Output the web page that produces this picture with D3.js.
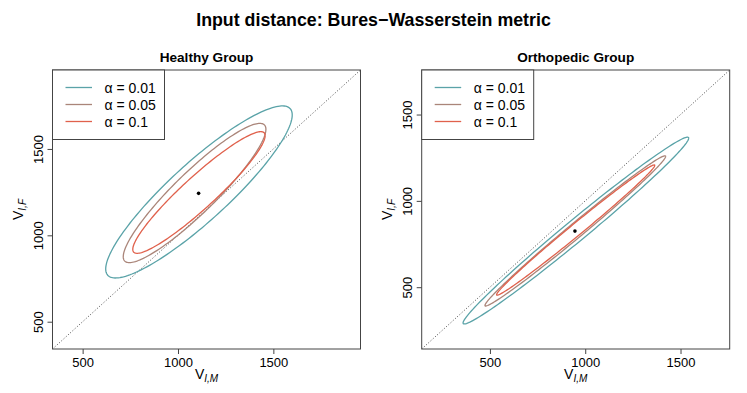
<!DOCTYPE html>
<html>
<head>
<meta charset="utf-8">
<script src="https://cdn.jsdelivr.net/npm/d3@7"></script>
<style>
  body { margin: 0; background: #fff; }
  text { font-family: "Liberation Sans", Arial, sans-serif; fill: #000; }
</style>
</head>
<body>
<div id="chart"></div>
<script>
// --------------------------------------
//  Data
// --------------------------------------

const mainTitle = "Input distance: Bures\u2212Wasserstein metric";
const groupNames = ["Healthy Group", "Orthopedic Group"];
const alphaLabels = ["\u03b1 = 0.01", "\u03b1 = 0.05", "\u03b1 = 0.1"];
const axisTicks = [500, 1000, 1500];

const healthyRange = [342, 1957];
const orthoRange = [142, 1758];

const healthyMean = [1108, 1243];
const orthoMean = [946, 825];

// confidence regions: [centre x, centre y, half-extent x, half-extent y, correlation]
const healthyRegions = [
  [1110, 1251, 489, 498, 0.895],
  [1087, 1245, 374, 403, 0.915],
  [1110, 1248, 347, 352, 0.935]
];
const orthoRegions = [
  [951, 828, 592, 541, 0.989],
  [948, 826, 474, 435, 0.992],
  [950, 831, 415, 377, 0.993]
];

// --------------------------------------
//  Margin and canvas
// --------------------------------------

const width = 747;
const height = 393;
const levelColors = ["#5aa3a8", "#aa8579", "#e0614c"];

const panels = [
  {name: groupNames[0], range: healthyRange, mean: healthyMean, regions: healthyRegions, left: 52.5},
  {name: groupNames[1], range: orthoRange, mean: orthoMean, regions: orthoRegions, left: 421.7}
];
const boxW = 308, boxTop = 70, boxBottom = 349;

const svg = d3.select("#chart")
  .append("svg")
    .attr("width", width)
    .attr("height", height);

svg.append("text")
  .attr("x", width / 2)
  .attr("y", 26)
  .attr("text-anchor", "middle")
  .attr("font-size", 17.8)
  .attr("font-weight", "bold")
  .text(mainTitle);

const ellipsePoints = r => d3.range(0, 361, 2).map(a => {
  const t = a * Math.PI / 180;
  return [r[0] + r[2] * Math.cos(t),
          r[1] + r[3] * (r[4] * Math.cos(t) + Math.sqrt(1 - r[4] * r[4]) * Math.sin(t))];
});

panels.forEach((p, i) => {
  const x = d3.scaleLinear().domain(p.range).range([p.left, p.left + boxW]);
  const y = d3.scaleLinear().domain(p.range).range([boxBottom, boxTop]);
  const g = svg.append("g");

  g.append("clipPath").attr("id", "clip" + i)
    .append("rect")
      .attr("x", p.left).attr("y", boxTop)
      .attr("width", boxW).attr("height", boxBottom - boxTop);

  const plot = g.append("g").attr("clip-path", `url(#clip${i})`);

  // diagonal y = x
  plot.append("line")
    .attr("x1", x(p.range[0])).attr("y1", y(p.range[0]))
    .attr("x2", x(p.range[1])).attr("y2", y(p.range[1]))
    .attr("stroke", "#333")
    .attr("stroke-width", 0.9)
    .attr("stroke-dasharray", "1,2");

  const line = d3.line().x(d => x(d[0])).y(d => y(d[1]));

  p.regions.forEach((r, k) => {
    plot.append("path")
      .attr("d", line(ellipsePoints(r)))
      .attr("fill", "none")
      .attr("stroke", levelColors[k])
      .attr("stroke-width", 1.3);
  });

  plot.append("circle")
    .attr("cx", x(p.mean[0])).attr("cy", y(p.mean[1]))
    .attr("r", 1.8)
    .attr("fill", "#000");

  // box
  g.append("rect")
    .attr("x", p.left).attr("y", boxTop)
    .attr("width", boxW).attr("height", boxBottom - boxTop)
    .attr("fill", "none")
    .attr("stroke", "#444");

  // axes
  const xAxis = g.append("g")
    .attr("transform", `translate(0, ${boxBottom})`)
    .call(d3.axisBottom(x).tickValues(axisTicks).tickFormat(d3.format("d"))
      .tickSize(5).tickSizeOuter(0).tickPadding(4));
  xAxis.select(".domain").remove();
  xAxis.selectAll("line").attr("stroke", "#444");
  xAxis.selectAll("text").attr("font-size", 13).attr("font-family", "Liberation Sans, Arial, sans-serif").attr("fill", "#000");

  const yAxis = g.append("g")
    .attr("transform", `translate(${p.left}, 0)`)
    .call(d3.axisLeft(y).tickValues(axisTicks).tickFormat(d3.format("d"))
      .tickSize(5).tickSizeOuter(0));
  yAxis.select(".domain").remove();
  yAxis.selectAll("line").attr("stroke", "#444");
  yAxis.selectAll("text")
    .attr("font-size", 13)
    .attr("font-family", "Liberation Sans, Arial, sans-serif")
    .attr("fill", "#000")
    .attr("x", null).attr("dy", null)
    .attr("text-anchor", "middle")
    .attr("transform", "translate(-9.5, 0) rotate(-90)");

  // panel title
  g.append("text")
    .attr("x", p.left + boxW / 2)
    .attr("y", 62)
    .attr("text-anchor", "middle")
    .attr("font-size", 13.6)
    .attr("font-weight", "bold")
    .text(p.name);

  // axis labels
  const xl = g.append("text")
    .attr("x", p.left + boxW / 2)
    .attr("y", 379)
    .attr("text-anchor", "middle")
    .attr("font-size", 14);
  xl.append("tspan").text("V");
  xl.append("tspan").attr("dy", 3).attr("font-size", 10).attr("font-style", "italic").text("I,M");

  const yl = g.append("text")
    .attr("transform", `translate(${p.left - 30}, ${(boxTop + boxBottom) / 2}) rotate(-90)`)
    .attr("text-anchor", "middle")
    .attr("font-size", 14);
  yl.append("tspan").text("V");
  yl.append("tspan").attr("dy", 3).attr("font-size", 10).attr("font-style", "italic").text("I,F");

  // legend
  const leg = g.append("g").attr("transform", `translate(${p.left}, ${boxTop})`);
  leg.append("rect")
    .attr("width", 112).attr("height", 69.5)
    .attr("fill", "#fff")
    .attr("stroke", "#444");
  alphaLabels.forEach((lab, k) => {
    const yy = 17.5 + k * 17;
    leg.append("line")
      .attr("x1", 13).attr("x2", 39.5)
      .attr("y1", yy).attr("y2", yy)
      .attr("stroke", levelColors[k])
      .attr("stroke-width", 1.3);
    leg.append("text")
      .attr("x", 52).attr("y", yy + 5)
      .attr("font-size", 14)
      .text(lab);
  });
});
</script>
</body>
</html>
